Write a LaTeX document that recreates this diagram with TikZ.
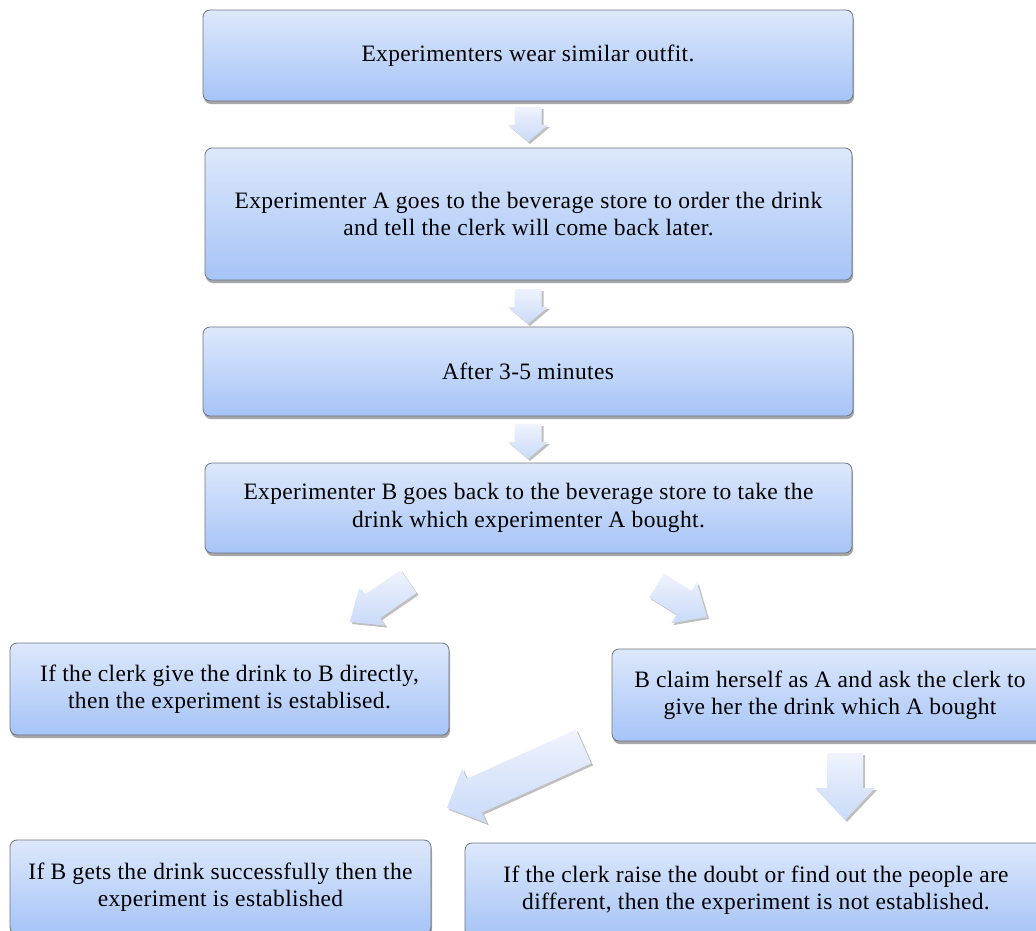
\documentclass[tikz,border=0pt]{standalone}
\usepackage{fontspec}
\setmainfont{Liberation Serif}[LetterSpace=1.5]
\usetikzlibrary{shadows}
\definecolor{boxtop}{HTML}{DDE8FB}
\definecolor{boxbot}{HTML}{A6C4F7}
\definecolor{arrtop}{HTML}{EFF3FD}
\definecolor{arrbot}{HTML}{C9DAF8}
\definecolor{boxline}{HTML}{6E7480}
\tikzset{
  box/.style={rounded corners=7pt, draw=boxline, line width=0.8pt,
    top color=boxtop, bottom color=boxbot, align=center,
    font=\fontsize{23.5}{27.5}\selectfont, inner sep=0pt,
    drop shadow={shadow xshift=1pt, shadow yshift=-3pt, opacity=0.35, fill=black}},
  blockarrow/.style={top color=arrtop, bottom color=arrbot,
    drop shadow={shadow xshift=2pt, shadow yshift=-2pt, opacity=0.25, fill=black}}
}
\begin{document}
\begin{tikzpicture}[x=1pt,y=-1pt]
\useasboundingbox (0,0) rectangle (1036,930);
\clip (0,0) rectangle (1036,930);
% boxes
\node[box, minimum width=650pt, minimum height=91pt] (b1) at (528,55.5) {Experimenters wear similar outfit.};
\node[box, minimum width=647pt, minimum height=132pt] (b2) at (528.5,214) {Experimenter A goes to the beverage store to order the drink\\and tell the clerk will come back later.};
\node[box, minimum width=650pt, minimum height=89pt] (b3) at (528,371.5) {After 3-5 minutes};
\node[box, minimum width=647pt, minimum height=90pt] (b4) at (528.5,508) {Experimenter B goes back to the beverage store to take the\\drink which experimenter A bought.};
\node[box, minimum width=439pt, minimum height=92pt] (b5) at (229.5,689) {If the clerk give the drink to B directly,\\then the experiment is establised.};
\node[box, minimum width=436pt, minimum height=92pt] (b6) at (830,695) {B claim herself as A and ask the clerk to\\give her the drink which A bought};
\node[box, minimum width=421pt, minimum height=94pt] (b7) at (220.5,887) {If B gets the drink successfully then the\\experiment is established};
\node[box, minimum width=582pt, minimum height=94pt] (b8) at (756,890) {If the clerk raise the doubt or find out the people are\\different, then the experiment is not established.};
% down arrows
\path[blockarrow] (514.5,107) -- (541.5,107) -- (541.5,125) -- (548,125) -- (528,142) -- (508,125) -- (514.5,125) -- cycle;
\path[blockarrow] (514.5,289) -- (541.5,289) -- (541.5,307) -- (548,307) -- (528,324) -- (508,307) -- (514.5,307) -- cycle;
\path[blockarrow] (514.5,424) -- (541.5,424) -- (541.5,442) -- (548,442) -- (528,459) -- (508,442) -- (514.5,442) -- cycle;
\path[blockarrow] (827,753) -- (863,753) -- (863,788) -- (875,788) -- (845,820) -- (815,788) -- (827,788) -- cycle;
% diagonal arrows
\path[blockarrow] (400.5,570) -- (416.5,593) -- (380.2,618.1) -- (385.3,625.6) -- (350,622) -- (359.1,587.6) -- (364.2,595.1) -- cycle;
\path[blockarrow] (663.9,573.6) -- (691.5,590.8) -- (696.8,582.3) -- (707,617) -- (671.4,623.1) -- (676.7,614.6) -- (649.1,597.4) -- cycle;
\path[blockarrow] (575.9,729.6) -- (591.1,763.4) -- (482.0,812.6) -- (486.7,823.1) -- (447,808) -- (462.1,768.3) -- (466.8,778.8) -- cycle;
\end{tikzpicture}
\end{document}
